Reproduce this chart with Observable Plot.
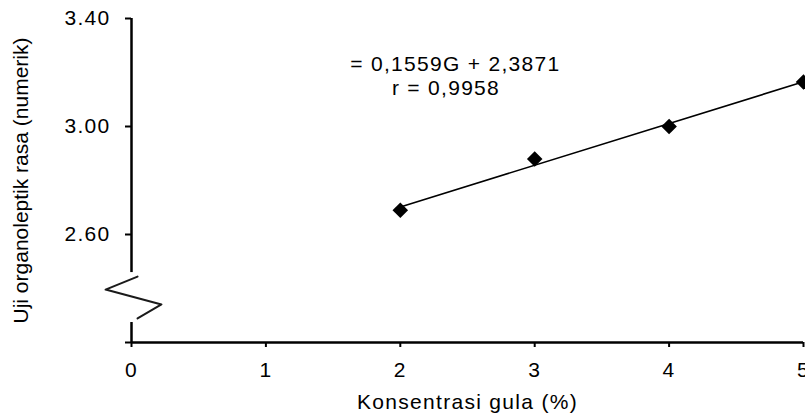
<!DOCTYPE html>
<html>
<head>
<meta charset="utf-8">
<script src="https://cdn.jsdelivr.net/npm/d3@7"></script>
<script src="https://cdn.jsdelivr.net/npm/@observablehq/plot@0.6"></script>
<style>
  html, body { margin: 0; padding: 0; background: #fff; }
  #chart svg text { letter-spacing: 1.3px; }
  #chart svg g[aria-label="y-axis label"] text { letter-spacing: 0; }
</style>
</head>
<body>
<div id="chart"></div>
<script>
// ---- data ----
const concentration = [2, 3, 4, 5];           // Konsentrasi gula (%)
const tasteScore = [2.69, 2.88, 3.00, 3.165];  // Uji organoleptik rasa
const xTicks = [0, 1, 2, 3, 4, 5];
const yTicks = [2.2, 2.6, 3.0, 3.4];
const yTickLabels = ["", "2.60", "3.00", "3.40"];
const annotationLines = ["= 0,1559G + 2,3871", "r = 0,9958"];
const annotationX = [2.41, 2.34];
const annotationY = [3.232, 3.143];
// y-axis line segments around the axis break (data units)
const yAxisSegY1 = [3.4, 2.274];
const yAxisSegY2 = [2.459, 2.2];
// axis-break zigzag glyph (data units)
const breakX = [0.045, -0.193, 0.223, 0.045];
const breakY = [2.444, 2.396, 2.341, 2.289];

const points = concentration.map((x, i) => ({x, y: tasteScore[i]}));
const annotations = annotationLines.map((t, i) => ({t, x: annotationX[i], y: annotationY[i]}));
const ySegs = yAxisSegY1.map((y1, i) => ({y1, y2: yAxisSegY2[i]}));
const zigzag = breakX.map((x, i) => ({x, y: breakY[i]}));

const chart = Plot.plot({
  width: 805,
  height: 415,
  marginLeft: 131,
  marginRight: 2,
  marginTop: 18,
  marginBottom: 73,
  style: {fontFamily: "'Liberation Sans', Arial, sans-serif", fontSize: "21px", color: "#000", background: "#fff", overflow: "visible"},
  x: {domain: [0, 5]},
  y: {domain: [2.2, 3.4]},
  marks: [
    Plot.axisX({ticks: xTicks, tickFormat: d => String(d), tickSize: 5, tickPadding: 15,
      strokeWidth: 2, label: "Konsentrasi gula (%)", labelAnchor: "center", labelOffset: 66, labelArrow: false}),
    Plot.axisY({ticks: yTicks, tickFormat: d => yTickLabels[yTicks.indexOf(d)], tickSize: 6, tickPadding: 15,
      strokeWidth: 2, label: "Uji organoleptik rasa (numerik)", labelAnchor: "center", labelOffset: 118, labelArrow: false}),
    Plot.ruleY([2.2], {x1: 0, x2: 5, stroke: "#000", strokeWidth: 2.5}),
    Plot.ruleX(ySegs, {x: 0, y1: "y1", y2: "y2", stroke: "#000", strokeWidth: 2.5}),
    Plot.line(zigzag, {x: "x", y: "y", stroke: "#1a1a1a", strokeWidth: 2}),
    Plot.linearRegressionY(points, {x: "x", y: "y", ci: 0, stroke: "#000", strokeWidth: 1.6}),
    Plot.dot(points, {x: "x", y: "y", symbol: "diamond2", r: 7, fill: "#000", stroke: "none"}),
    Plot.text(annotations, {x: "x", y: "y", text: "t", fill: "#000", fontSize: 21})
  ]
});
document.getElementById("chart").appendChild(chart);
</script>
</body>
</html>
